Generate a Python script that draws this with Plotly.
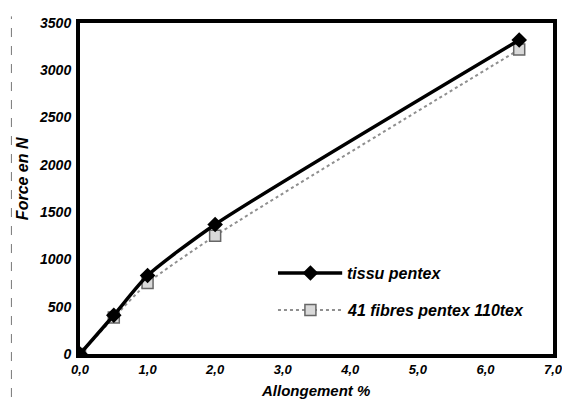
import plotly.graph_objects as go

x_vals = [0.0, 0.5, 1.0, 2.0, 6.5]
tissu = [0, 410, 830, 1370, 3320]
fibres = [0, 385, 750, 1250, 3220]
name_tissu = "tissu pentex"
name_fibres = "41 fibres pentex 110tex"
x_title = "Allongement %"
y_title = "Force en N"
x_ticks = [0, 1, 2, 3, 4, 5, 6, 7]
y_ticks = [0, 500, 1000, 1500, 2000, 2500, 3000, 3500]

# legend row positions (inside the axes)
leg_x = [2.93, 3.88]
leg_mark_x = 3.41
leg_text_x = 3.92
leg_y_tissu = 856
leg_y_fibres = 465

FONT = "Liberation Sans"
FIB_LINE = dict(color="#8f8f8f", width=2, dash="dot")
FIB_MARK = dict(symbol="square", size=11, color="#d9d9d9", line=dict(color="#666666", width=1.5))
TIS_MARK = dict(symbol="diamond", size=12, color="black")

fig = go.Figure()
fig.add_trace(go.Scatter(
    x=x_vals, y=fibres, name=name_fibres, mode="lines+markers",
    line=dict(FIB_LINE, shape="spline", smoothing=0.6), marker=FIB_MARK,
))
fig.add_trace(go.Scatter(
    x=x_vals, y=tissu, name=name_tissu, mode="lines+markers",
    line=dict(color="black", width=3.5, shape="spline", smoothing=0.6), marker=TIS_MARK,
))

# legend samples
fig.add_trace(go.Scatter(x=leg_x, y=[leg_y_tissu] * 2, mode="lines",
                         line=dict(color="black", width=3.5), hoverinfo="skip"))
fig.add_trace(go.Scatter(x=[leg_mark_x], y=[leg_y_tissu], mode="markers",
                         marker=TIS_MARK, hoverinfo="skip"))
fig.add_trace(go.Scatter(x=leg_x, y=[leg_y_fibres] * 2, mode="lines",
                         line=FIB_LINE, hoverinfo="skip"))
fig.add_trace(go.Scatter(x=[leg_mark_x], y=[leg_y_fibres], mode="markers",
                         marker=FIB_MARK, hoverinfo="skip"))
fig.add_annotation(x=leg_text_x, y=leg_y_tissu, text="<b><i>%s</i></b>" % name_tissu,
                   showarrow=False, xanchor="left", font=dict(family=FONT, size=16, color="black"))
fig.add_annotation(x=leg_text_x, y=leg_y_fibres, text="<b><i>%s</i></b>" % name_fibres,
                   showarrow=False, xanchor="left", font=dict(family=FONT, size=16, color="black"))

# axis titles
fig.add_annotation(xref="paper", yref="paper", x=0.497, y=-0.109, xanchor="center", yanchor="middle",
                   text="<b><i>%s</i></b>" % x_title, showarrow=False,
                   font=dict(family=FONT, size=15, color="black"))
fig.add_annotation(xref="paper", yref="paper", x=-0.12, y=0.529, xanchor="center", yanchor="middle",
                   text="<b><i>%s</i></b>" % y_title, showarrow=False, textangle=-90,
                   font=dict(family=FONT, size=16, color="black"))

# page body has an 8px default margin, so the figure is 8px smaller and shifted
fig.update_layout(
    width=562, height=397,
    margin=dict(l=72, r=7, t=15, b=51),
    paper_bgcolor="white", plot_bgcolor="white",
    font=dict(family=FONT, color="black"),
    showlegend=False,
)
fig.update_xaxes(
    range=[0, 7], tickvals=x_ticks,
    ticktext=["<b><i>%s</i></b>" % ("%.1f" % v).replace(".", ",") for v in x_ticks],
    showgrid=False, zeroline=False,
    showline=True, linecolor="black", linewidth=4, mirror=True,
    ticks="",
    tickfont=dict(family=FONT, size=13, color="black"),
)
fig.update_yaxes(
    range=[0, 3500], tickvals=y_ticks,
    ticktext=["<b><i>%d</i></b>" % v for v in y_ticks],
    showgrid=False, zeroline=False,
    showline=True, linecolor="black", linewidth=4, mirror=True,
    ticks="outside", ticklen=2, tickcolor="white",
    tickfont=dict(family=FONT, size=14, color="black"),
)

# scan artefact: dashed vertical line at left edge
fig.add_shape(type="line", xref="paper", yref="paper", x0=-0.145, x1=-0.145, y0=-0.13, y1=1.02,
              line=dict(color="#777777", width=1, dash="dash"))

fig.write_html("out.html")
